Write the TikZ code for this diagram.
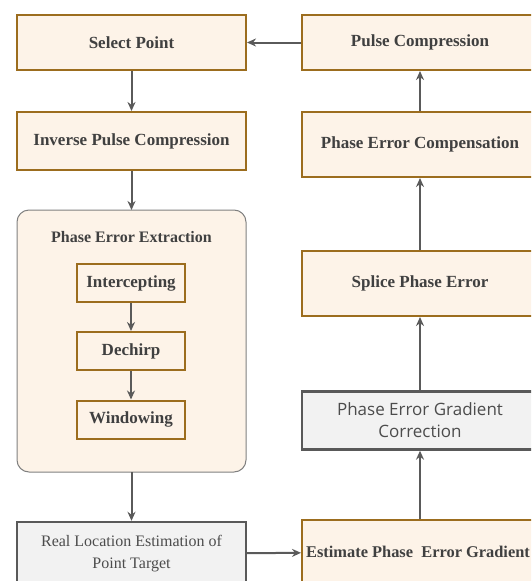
\documentclass[tikz,border=0pt]{standalone}
\usepackage{fontspec}
\setmainfont{Liberation Serif}
\newfontfamily\uifont{Open Sans}
\usetikzlibrary{arrows.meta}

\definecolor{boxfill}{HTML}{FDF3E8}
\definecolor{boxline}{HTML}{9C6D1E}
\definecolor{greyfill}{HTML}{F2F2F2}
\definecolor{greyline}{HTML}{595959}
\definecolor{flowline}{HTML}{5A5A5A}

\tikzset{
  stepbox/.style={draw=boxline, fill=boxfill, line width=2pt, inner sep=0pt,
    font=\fontsize{17}{20}\selectfont\bfseries, text=black!75},
  subbox/.style={stepbox, minimum width=108pt, minimum height=38pt},
  greybox/.style={draw=greyline, fill=greyfill, line width=2.4pt, inner sep=0pt,
    align=center, text=black!70},
  flow/.style={draw=flowline, line width=2pt, -{Stealth[length=9pt,width=8pt]}}
}

\begin{document}
\begin{tikzpicture}[x=1pt, y=-1pt]
  \useasboundingbox (0,0) rectangle (531,581);
  \clip (0,0) rectangle (531,581);

  % left column
  \node[stepbox, minimum width=229pt, minimum height=55pt] (select) at (131.5, 42.5) {Select Point};
  \node[stepbox, minimum width=229pt, minimum height=58pt] (inverse) at (131.5, 141) {Inverse Pulse Compression};

  \draw[draw=black!50, fill=boxfill, line width=1pt, rounded corners=12pt] (17,210) rectangle (246,472);
  \coordinate (extop) at (131.5, 210);
  \coordinate (exbot) at (131.5, 472);
  \node[font=\fontsize{16}{20}\selectfont\bfseries, text=black!75] (extitle) at (131.5, 237) {Phase Error Extraction};

  \node[subbox] (intercept) at (131, 283) {Intercepting};
  \node[subbox] (dechirp) at (131, 351) {Dechirp};
  \node[subbox] (window) at (131, 419.5) {Windowing};

  \node[greybox, minimum width=229pt, minimum height=64pt,
    font=\fontsize{16}{22}\selectfont] (realloc) at (131.5, 554) {Real Location Estimation of\\Point Target};

  % right column
  \node[stepbox, minimum width=236pt, minimum height=55pt] (pulse) at (420, 42.5) {Pulse Compression};
  \node[stepbox, minimum width=236pt, minimum height=65pt] (compens) at (420, 144.5) {Phase Error Compensation};
  \node[stepbox, minimum width=236pt, minimum height=65pt] (splice) at (420, 283.5) {Splice Phase Error};
  \node[greybox, minimum width=236pt, minimum height=58pt,
    font=\uifont\fontsize{17}{22}\selectfont] (gradcor) at (420, 420.5) {Phase Error Gradient\\Correction};
  \node[stepbox, minimum width=232pt, minimum height=64pt,
    font=\fontsize{16.4}{20}\selectfont\bfseries] (estimate) at (418, 552) {Estimate Phase\ \ Error Gradient};

  % connectors
  \draw[flow] (pulse) -- (select);
  \draw[flow] (select) -- (inverse);
  \draw[flow] (inverse) -- (extop);
  \draw[flow] (intercept) -- (dechirp);
  \draw[flow] (dechirp) -- (window);
  \draw[flow] (exbot) -- (realloc);
  \draw[flow] (realloc) -- (estimate);
  \draw[flow] (estimate.north -| gradcor.south) -- (gradcor);
  \draw[flow] (gradcor) -- (splice);
  \draw[flow] (splice) -- (compens);
  \draw[flow] (compens) -- (pulse);
\end{tikzpicture}
\end{document}
